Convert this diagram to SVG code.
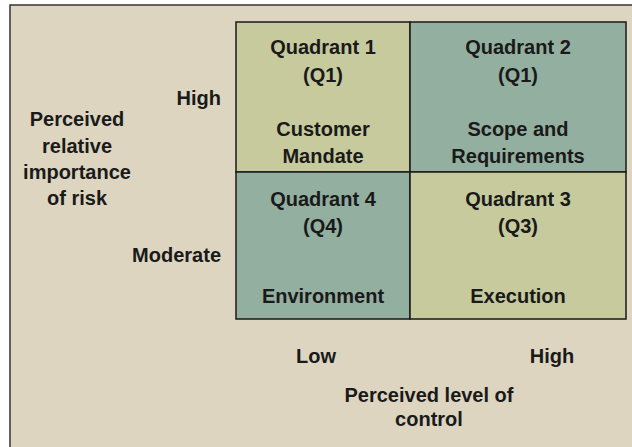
<svg xmlns="http://www.w3.org/2000/svg" width="632" height="447" viewBox="0 0 632 447">
<style>
text{font-family:"Liberation Sans",Arial,sans-serif;font-weight:bold;font-size:20px;fill:#1a1a1a;text-anchor:middle}
.r{text-anchor:end}
.qa{fill:#c6ca9c}
.qb{fill:#93afa0}
.cell{stroke:#1a1a1a;stroke-width:1.5}
</style>
<rect x="0" y="0" width="632" height="447" fill="#ffffff"/>
<rect x="10" y="5" width="640" height="460" fill="#ddd5bf" stroke="#333" stroke-width="1.5"/>
<g id="q1"><rect class="cell qa" x="236" y="22" width="174" height="150"/>
<text x="323" y="54">Quadrant 1</text><text x="323" y="82">(Q1)</text>
<text x="323" y="136">Customer</text><text x="323" y="163">Mandate</text></g>
<g id="q2"><rect class="cell qb" x="410" y="22" width="216" height="150"/>
<text x="518" y="54">Quadrant 2</text><text x="518" y="82">(Q1)</text>
<text x="518" y="136">Scope and</text><text x="518" y="163">Requirements</text></g>
<g id="q4"><rect class="cell qb" x="236" y="172" width="174" height="147"/>
<text x="323" y="206">Quadrant 4</text><text x="323" y="233">(Q4)</text>
<text x="323" y="303">Environment</text></g>
<g id="q3"><rect class="cell qa" x="410" y="172" width="216" height="147"/>
<text x="518" y="206">Quadrant 3</text><text x="518" y="233">(Q3)</text>
<text x="518" y="303">Execution</text></g>
<g id="yaxis">
<text class="r" x="221" y="105">High</text>
<text class="r" x="221" y="262">Moderate</text>
<text x="77" y="126">Perceived</text><text x="77" y="153">relative</text>
<text x="77" y="179">importance</text><text x="77" y="205">of risk</text>
</g>
<g id="xaxis">
<text x="316" y="363">Low</text><text x="552" y="363">High</text>
<text x="429" y="402">Perceived level of</text><text x="429" y="426">control</text>
</g>
<g id="connectors"></g>
</svg>
